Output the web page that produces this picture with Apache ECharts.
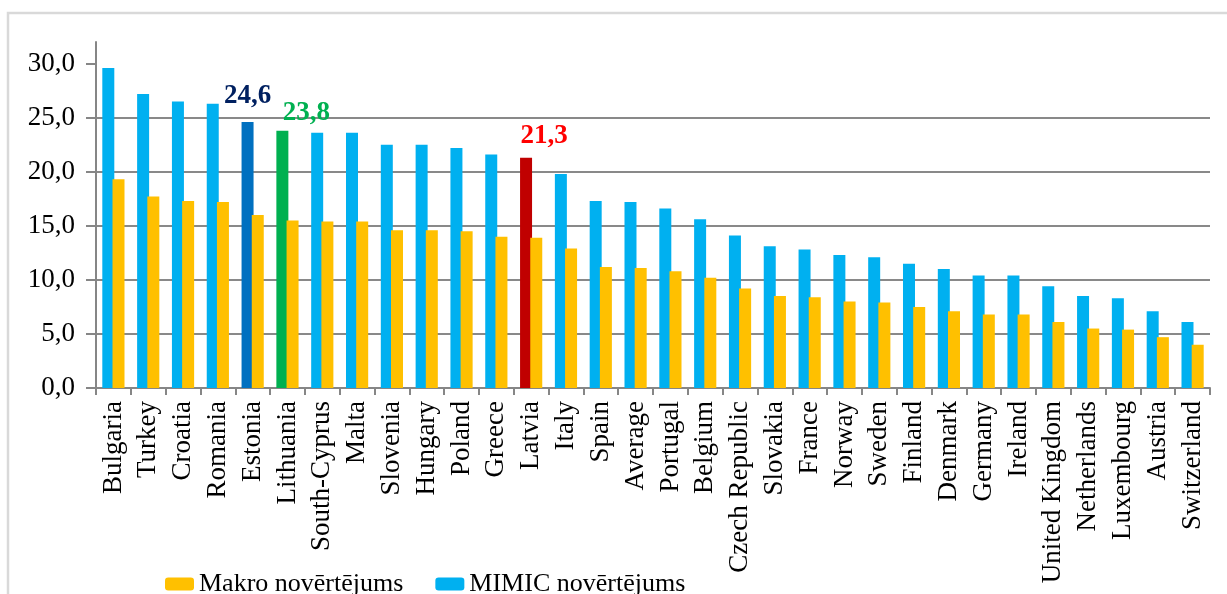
<!DOCTYPE html>
<html>
<head>
<meta charset="utf-8">
<script src="https://cdn.jsdelivr.net/npm/echarts@6/dist/echarts.min.js"></script>
<style>
  html, body { margin: 0; padding: 0; background: #fff; }
  #chart { width: 1227px; height: 594px; }
</style>
</head>
<body>
<div id="chart"></div>
<script>
const countries = ['Bulgaria', 'Turkey', 'Croatia', 'Romania', 'Estonia', 'Lithuania', 'South-Cyprus', 'Malta',
  'Slovenia', 'Hungary', 'Poland', 'Greece', 'Latvia', 'Italy', 'Spain', 'Average', 'Portugal', 'Belgium',
  'Czech Republic', 'Slovakia', 'France', 'Norway', 'Sweden', 'Finland', 'Denmark', 'Germany', 'Ireland',
  'United Kingdom', 'Netherlands', 'Luxembourg', 'Austria', 'Switzerland'];
const mimic = [29.6, 27.2, 26.5, 26.3, 24.6, 23.8, 23.6, 23.6, 22.5, 22.5, 22.2, 21.6, 21.3, 19.8, 17.3, 17.2,
  16.6, 15.6, 14.1, 13.1, 12.8, 12.3, 12.1, 11.5, 11.0, 10.4, 10.4, 9.4, 8.5, 8.3, 7.1, 6.1];
const makro = [19.3, 17.7, 17.3, 17.2, 16.0, 15.5, 15.4, 15.4, 14.6, 14.6, 14.5, 14.0, 13.9, 12.9, 11.2, 11.1,
  10.8, 10.2, 9.2, 8.5, 8.4, 8.0, 7.9, 7.5, 7.1, 6.8, 6.8, 6.1, 5.5, 5.4, 4.7, 4.0];
const yTicks = [0, 5, 10, 15, 20, 25, 30];
const seriesNames = ['MIMIC novērtējums', 'Makro novērtējums'];

// highlighted countries: bar colour, label colour, label offset
const highlight = {
  'Estonia': { bar: '#0070C0', text: '#002060', offset: [0, -7] },
  'Lithuania': { bar: '#00B050', text: '#00B050', offset: [24, 1] },
  'Latvia': { bar: '#C00000', text: '#FF0000', offset: [18, -3] }
};

const serif = "'Liberation Serif', 'Times New Roman', serif";
const fmt = v => v.toFixed(1).replace('.', ',');

const chart = echarts.init(document.getElementById('chart'));

const mimicData = mimic.map((v, i) => {
  const h = highlight[countries[i]];
  if (!h) return v;
  return {
    value: v,
    itemStyle: { color: h.bar },
    label: {
      show: true, position: 'top', distance: 5, offset: h.offset,
      formatter: p => fmt(p.value),
      color: h.text, fontSize: 27, fontWeight: 'bold', fontFamily: serif
    }
  };
});

chart.setOption({
  animation: false,
  graphic: [{
    type: 'rect', silent: true,
    shape: { x: 8, y: 13, width: 1400, height: 800 },
    style: { fill: 'none', stroke: '#d9d9d9', lineWidth: 2.5 }
  }],
  grid: { left: 96, right: 17, top: 42, bottom: 206 },
  legend: {
    data: [seriesNames[1], seriesNames[0]],
    left: 160, top: 566,
    icon: 'roundRect', itemWidth: 29, itemHeight: 13, itemGap: 32,
    textStyle: { fontSize: 26, fontFamily: serif, color: '#000' }
  },
  xAxis: {
    type: 'category',
    data: countries,
    axisLine: { lineStyle: { color: '#868686', width: 2 } },
    axisTick: { show: true, length: 7, lineStyle: { color: '#868686', width: 2 } },
    axisLabel: {
      rotate: 90, interval: 0, margin: 13,
      fontSize: 27, fontFamily: serif, color: '#000'
    }
  },
  yAxis: {
    type: 'value', min: 0, max: 32,
    axisLine: { show: true, lineStyle: { color: '#868686', width: 2 } },
    axisTick: { show: true, length: 10, customValues: yTicks, lineStyle: { color: '#868686', width: 2 } },
    splitLine: { show: true, showMaxLine: false, lineStyle: { color: '#898989', width: 2 } },
    axisLabel: {
      customValues: yTicks, margin: 21,
      formatter: fmt,
      fontSize: 27, fontFamily: serif, color: '#000'
    }
  },
  series: [{
    name: seriesNames[0],
    type: 'bar',
    data: mimicData,
    barWidth: 12,
    barGap: '-15%',
    itemStyle: { color: '#00B0F0' }
  }, {
    name: seriesNames[1],
    type: 'bar',
    data: makro,
    barWidth: 12,
    itemStyle: { color: '#FFC000' }
  }]
});

window.addEventListener('resize', () => chart.resize());
</script>
</body>
</html>
